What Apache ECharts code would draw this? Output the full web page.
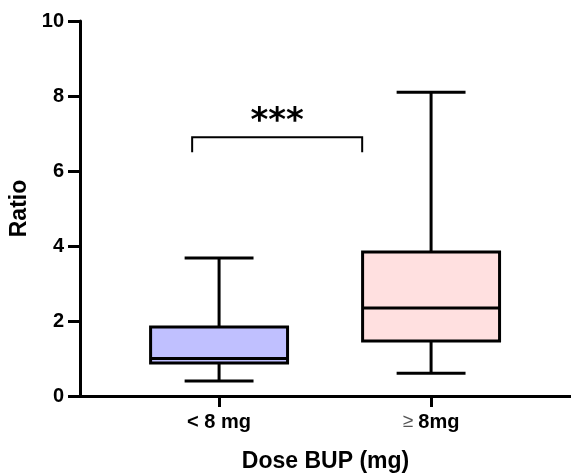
<!DOCTYPE html>
<html>
<head>
<meta charset="utf-8">
<script src="https://cdn.jsdelivr.net/npm/echarts@6/dist/echarts.min.js"></script>
<style>html,body{margin:0;padding:0;background:#fff}#c{width:571px;height:475px}</style>
</head>
<body>
<div id="c"></div>
<script>
// Data
const categories = ['< 8 mg', '≥ 8mg'];
const categoryPos = [1, 2];
// [min, Q1, median, Q3, max]
const boxLow = [0.40, 0.61];
const boxQ1 = [0.88, 1.47];
const boxMedian = [1.00, 2.35];
const boxQ3 = [1.84, 3.84];
const boxHigh = [3.68, 8.10];
const boxColors = ['#c0c0ff', '#ffe0e0'];
const yTicks = [0, 2, 4, 6, 8, 10];
// significance bracket: [x1, x2, yTop, yBottom], label
const bracket = [0.873, 1.675, 6.9, 6.5];
const bracketLabel = '***';

const FONT = '"Liberation Sans", Arial, sans-serif';
const chart = echarts.init(document.getElementById('c'), null, {renderer: 'canvas'});

const boxData = categoryPos.map((x, i) => [x, boxLow[i], boxQ1[i], boxMedian[i], boxQ3[i], boxHigh[i]]);

const BOX_W = 0.646, CAP_W = 0.325, LW = 3;

function renderBox(params, api) {
  const x = api.value(0);
  const lo = api.coord([x, api.value(1)]);
  const q1 = api.coord([x, api.value(2)]);
  const md = api.coord([x, api.value(3)]);
  const q3 = api.coord([x, api.value(4)]);
  const hi = api.coord([x, api.value(5)]);
  const bw = api.size([BOX_W, 0])[0];
  const cw = api.size([CAP_W, 0])[0];
  const cx = lo[0];
  const ls = {stroke: '#000', lineWidth: LW, lineCap: 'butt'};
  return {
    type: 'group',
    children: [
      {type: 'line', shape: {x1: cx, y1: hi[1], x2: cx, y2: q3[1]}, style: ls},
      {type: 'line', shape: {x1: cx, y1: q1[1], x2: cx, y2: lo[1]}, style: ls},
      {type: 'line', shape: {x1: cx - cw / 2, y1: hi[1], x2: cx + cw / 2, y2: hi[1]}, style: ls},
      {type: 'line', shape: {x1: cx - cw / 2, y1: lo[1], x2: cx + cw / 2, y2: lo[1]}, style: ls},
      {type: 'rect', shape: {x: cx - bw / 2, y: q3[1], width: bw, height: q1[1] - q3[1]},
        style: {fill: boxColors[params.dataIndex], stroke: '#000', lineWidth: LW}},
      {type: 'line', shape: {x1: cx - bw / 2, y1: md[1], x2: cx + bw / 2, y2: md[1]}, style: ls}
    ]
  };
}

function renderBracket(params, api) {
  const a = api.coord([api.value(0), api.value(2)]);
  const b = api.coord([api.value(1), api.value(3)]);
  return {
    type: 'group',
    children: [
      {type: 'polyline', shape: {points: [[a[0], b[1]], [a[0], a[1]], [b[0], a[1]], [b[0], b[1]]]},
        style: {stroke: '#000', lineWidth: 2, fill: null}},
      {type: 'text', x: (a[0] + b[0]) / 2, y: a[1] - 32,
        style: {text: bracketLabel, font: 'bold 34px "DejaVu Sans", sans-serif', fill: '#000', align: 'center', verticalAlign: 'top'}}
    ]
  };
}

chart.setOption({
  animation: false,
  backgroundColor: '#fff',
  grid: {left: 80, right: 0, top: 21, bottom: 79, containLabel: false, outerBoundsMode: 'none'},
  xAxis: {
    type: 'value', min: 0.344, max: 2.66,
    name: 'Dose BUP (mg)', nameLocation: 'middle', nameGap: 54,
    nameTextStyle: {fontFamily: FONT, fontWeight: 'bold', fontSize: 23, color: '#000'},
    axisLine: {show: true, onZero: false, lineStyle: {color: '#000', width: 3}},
    axisTick: {show: true, customValues: categoryPos, length: 11, lineStyle: {color: '#000', width: 3}},
    axisLabel: {
      customValues: categoryPos, margin: 16,
      fontFamily: FONT, fontWeight: 'bold', fontSize: 20, color: '#000',
      formatter: v => {
        const s = categories[Math.round(v) - 1];
        if (s.startsWith('≥')) return '{g|≥ }' + s.slice(1).trim();
        return s;
      },
      rich: {g: {fontFamily: FONT, fontWeight: 'normal', fontSize: 19, color: '#555'}}
    },
    splitLine: {show: false}
  },
  yAxis: {
    type: 'value', min: yTicks[0], max: yTicks[yTicks.length - 1], interval: 2,
    name: 'Ratio', nameLocation: 'middle', nameGap: 47, nameRotate: 90,
    nameTextStyle: {fontFamily: FONT, fontWeight: 'bold', fontSize: 23, color: '#000'},
    axisLine: {show: true, lineStyle: {color: '#000', width: 3}},
    axisTick: {show: true, length: 12, lineStyle: {color: '#000', width: 3}},
    axisLabel: {margin: 16, fontFamily: FONT, fontWeight: 'bold', fontSize: 20, color: '#000'},
    splitLine: {show: false}
  },
  series: [
    {type: 'custom', renderItem: renderBox, data: boxData, clip: false,
      encode: {x: 0, y: [1, 2, 3, 4, 5]}},
    {type: 'custom', renderItem: renderBracket, data: [bracket], clip: false,
      encode: {x: [0, 1], y: [2, 3]}}
  ]
});
</script>
</body>
</html>
